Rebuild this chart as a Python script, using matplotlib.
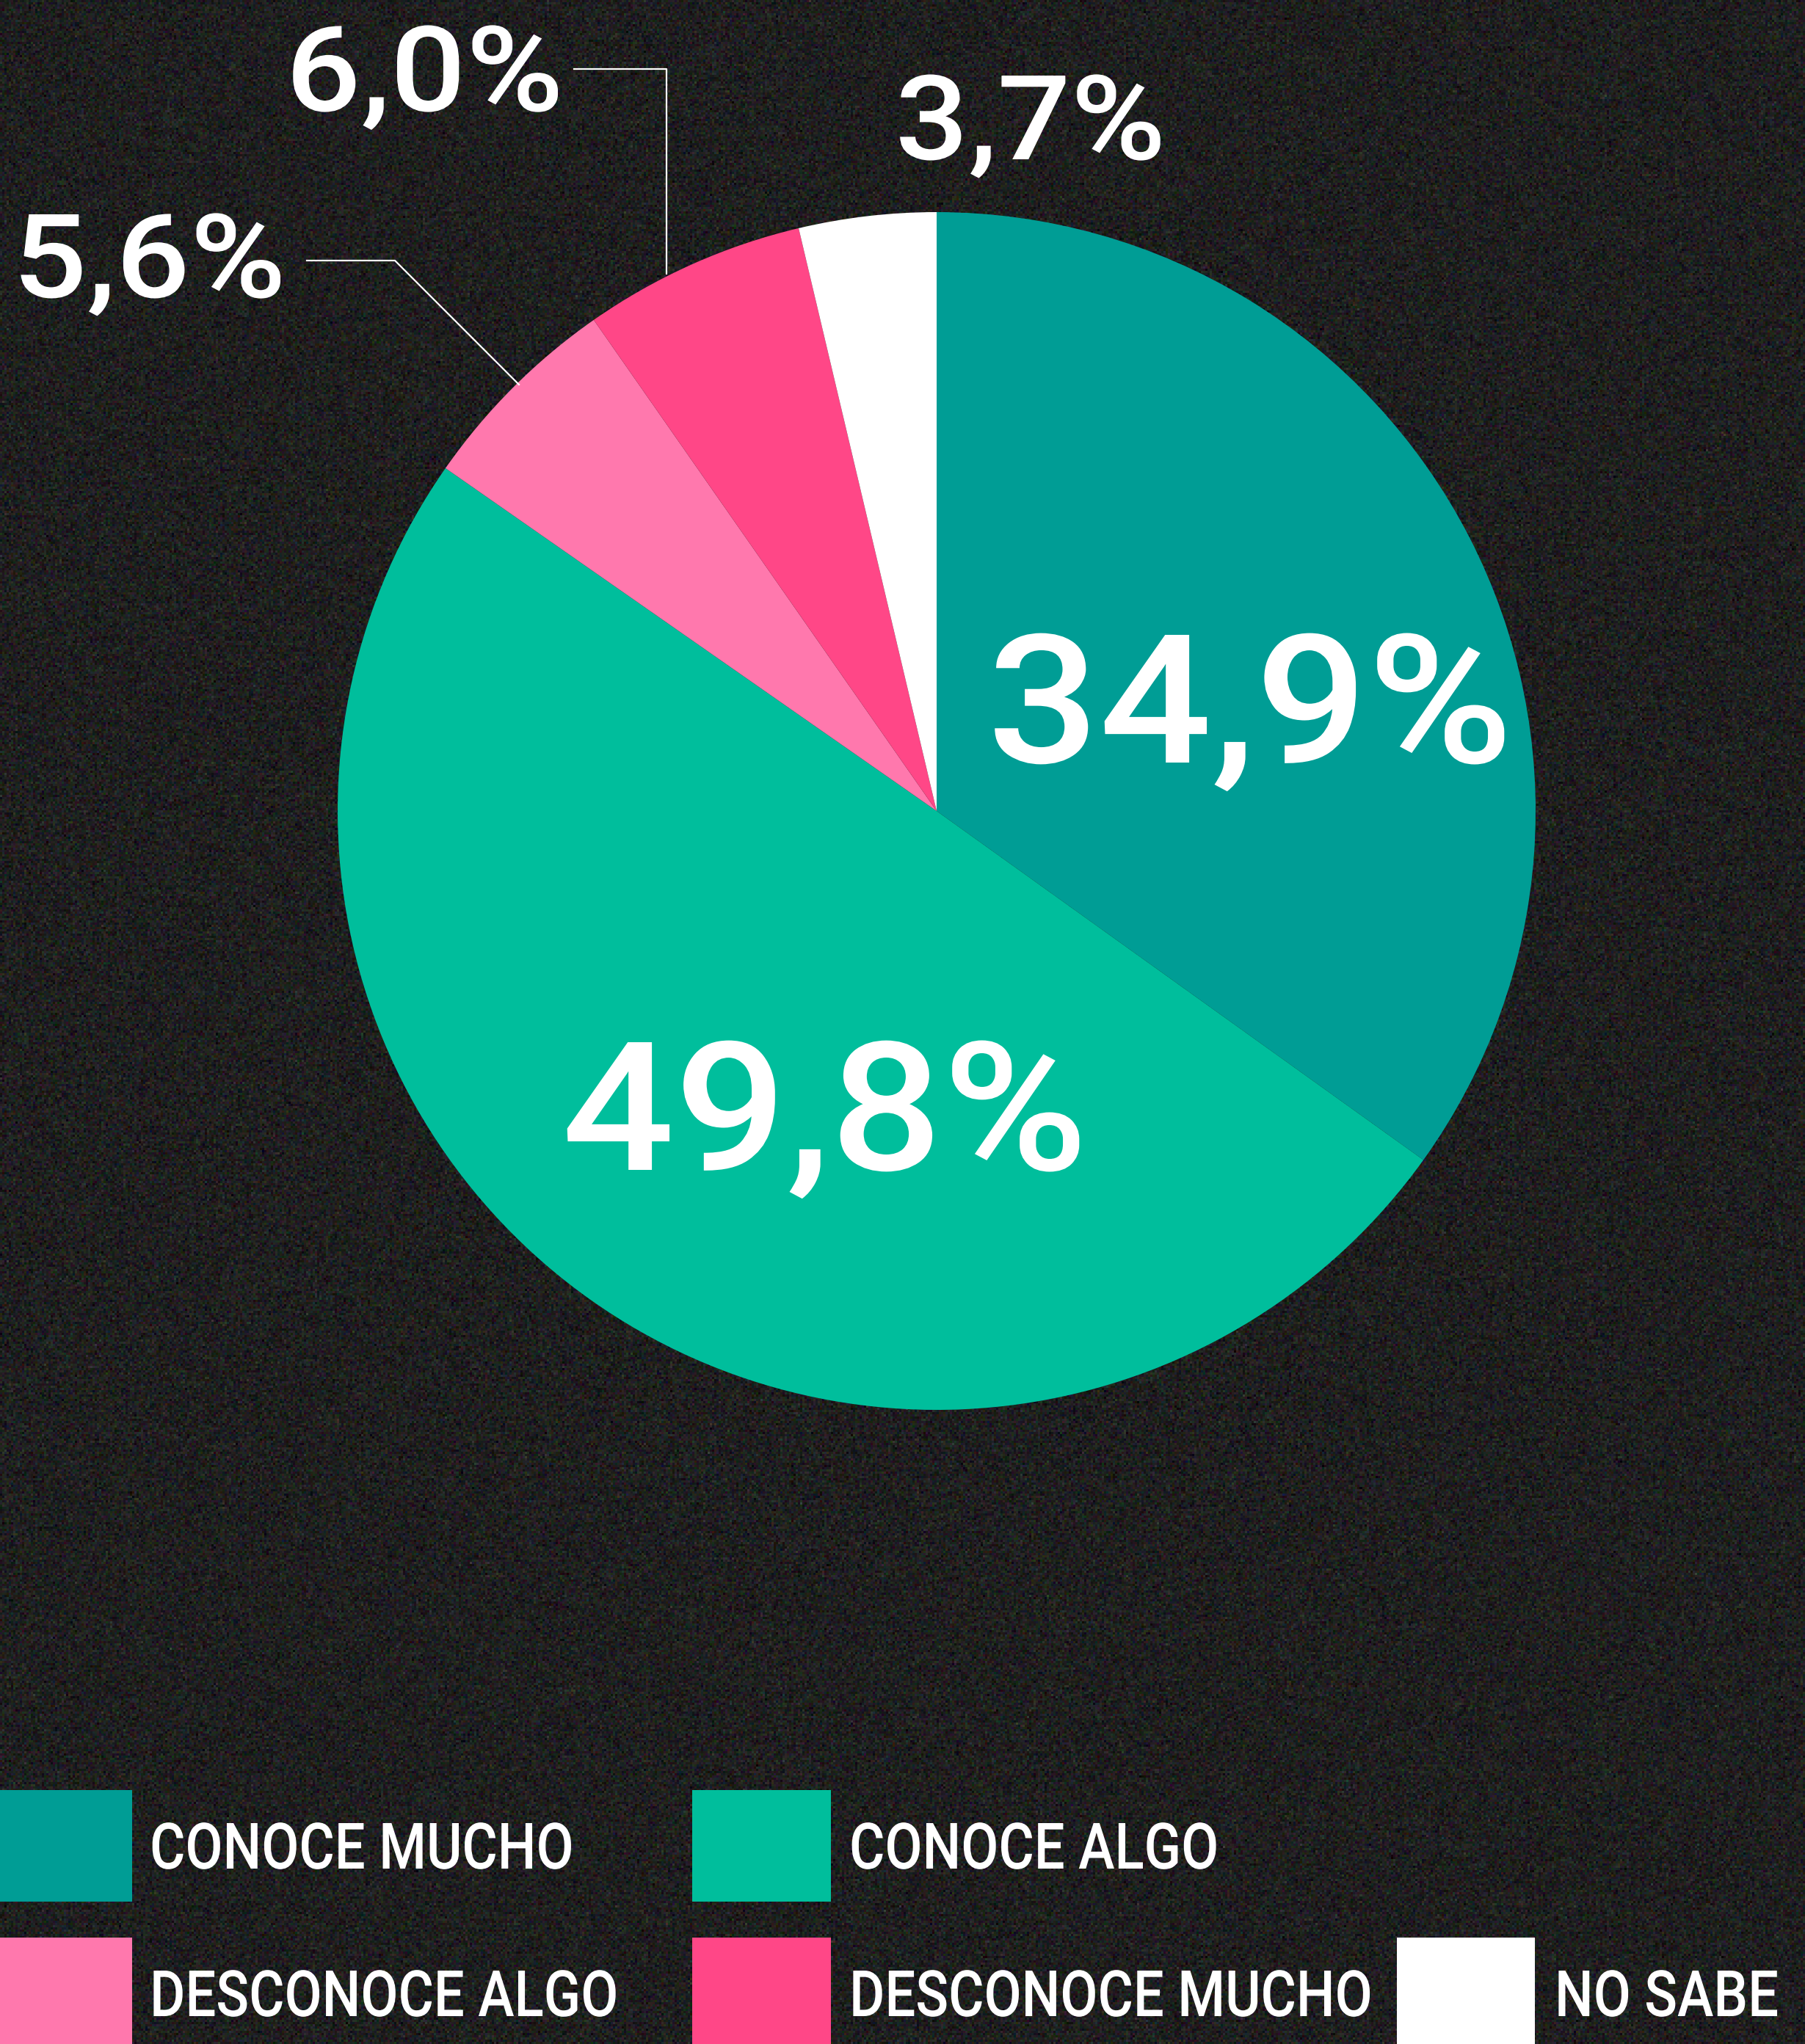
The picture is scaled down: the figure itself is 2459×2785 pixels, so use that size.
import matplotlib
matplotlib.use('Agg')
import matplotlib.pyplot as plt
import numpy as np
from matplotlib.patches import Rectangle, PathPatch
from matplotlib.textpath import TextPath
from matplotlib.font_manager import FontProperties
from matplotlib.transforms import Affine2D

# survey shares, clockwise from 12 o'clock
categories = ['CONOCE MUCHO', 'CONOCE ALGO', 'DESCONOCE ALGO', 'DESCONOCE MUCHO', 'NO SABE']
shares = [34.9, 49.8, 5.6, 6.0, 3.7]
colors = ['#009d95', '#00be9c', '#ff78ad', '#ff4787', '#ffffff']

BG = '#1f1f1f'
W, H = 2459, 2785

fig = plt.figure(figsize=(W / 100, H / 100), dpi=100, facecolor=BG)
ax = fig.add_axes([0, 0, 1, 1])
ax.set_facecolor(BG)

# film-grain backdrop
rng = np.random.default_rng(7)
grain = rng.normal(0, 9, size=(H // 3, W // 3, 3))
grain += rng.normal(0, 5, size=(H // 3, W // 3, 1))
tex = np.clip((31 + grain) / 255.0, 0, 1)
ax.imshow(tex, extent=(0, W, 0, H), interpolation='nearest', zorder=0)

ax.set_xlim(0, W)
ax.set_ylim(0, H)
ax.set_aspect('equal')
ax.axis('off')


def py(y):
    # pixel row from the top -> data y
    return H - y


cx, cy, r = 1276, 1105, 816
wedges, _ = ax.pie(shares, colors=colors, startangle=90, counterclock=False,
                   center=(cx, py(cy)), radius=r, wedgeprops=dict(linewidth=0))
for w in wedges:
    w.set_zorder(2)
ax.set_xlim(0, W)
ax.set_ylim(0, H)


def pct(v):
    return f'{v:.1f}'.replace('.', ',') + '%'


def draw_text(x, ybase, s, cap, sx, ha='left', weight='normal'):
    # text drawn as an outline so it can be stretched horizontally
    prop = FontProperties(family='Roboto', weight=weight)
    em = cap / 0.711
    tp = TextPath((0, 0), s, size=em, prop=prop)
    ext = tp.get_extents()
    width = ext.x1 * sx
    if ha == 'center':
        x0 = x - width / 2
    elif ha == 'right':
        x0 = x - width
    else:
        x0 = x
    tr = Affine2D().scale(sx, 1).translate(x0, py(ybase)) + ax.transData
    ax.add_patch(PathPatch(tp, facecolor='white', edgecolor='none', transform=tr, zorder=5))


# inside labels
draw_text(1697, 1039, pct(shares[0]), 174, 1.10, 'center', 'medium')
draw_text(1118, 1594, pct(shares[1]), 174, 1.10, 'center', 'medium')

# outside labels
draw_text(1400, 217, pct(shares[4]), 114, 1.10, 'center', 'medium')
draw_text(760, 151, pct(shares[3]), 115, 1.12, 'right', 'medium')
draw_text(382, 405, pct(shares[2]), 113, 1.12, 'right', 'medium')

# leader lines
ax.plot([782, 908, 908], [py(94), py(94), py(373)], color='white', lw=1.6, zorder=3)
ax.plot([418, 538, 707], [py(355), py(355), py(524)], color='white', lw=1.6, zorder=3)

# legend
rows = [(2439, 2591, 2546), (2640, 2800, 2747)]
cols = [(0, 180, 204), (943, 1132, 1157), (1903, 2091, 2118)]
slots = [(0, 0), (0, 1), (1, 0), (1, 1), (1, 2)]
for name, col, (ri, ci) in zip(categories, colors, slots):
    y0, y1, base = rows[ri]
    x0, x1, tx = cols[ci]
    ax.add_patch(Rectangle((x0, py(y1)), x1 - x0, y1 - y0, facecolor=col,
                           edgecolor='none', zorder=2))
    draw_text(tx, base, name, 62, 0.85, 'left', 'medium')

fig.savefig('out.png', dpi=100, facecolor=BG)
